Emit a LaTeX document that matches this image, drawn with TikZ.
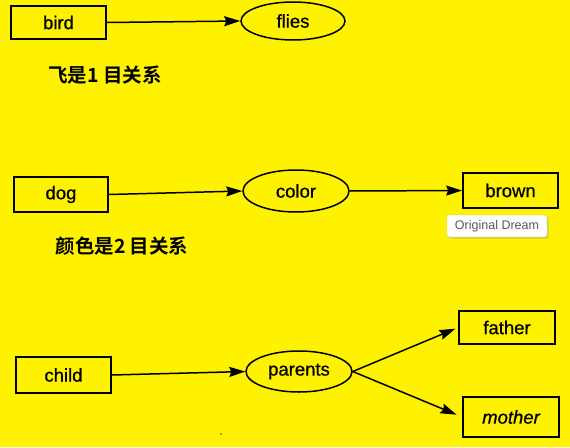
\documentclass[tikz,border=0pt]{standalone}
\usepackage{fontspec}
\setmainfont{Liberation Sans}
\newfontfamily\lbl[FakeBold=0.7]{Liberation Sans}
\newfontfamily\lblit[FakeBold=0.7]{Liberation Sans Italic}
\newfontfamily\cjk{Noto Sans CJK SC Bold}
\usetikzlibrary{shapes.geometric,arrows.meta,shadows}
\tikzset{
  boxnode/.style={draw=black, line width=1.7pt, rectangle, inner sep=0pt, font=\lbl\fontsize{18.5}{20}\selectfont},
  ovalnode/.style={draw=black, line width=1.5pt, ellipse, inner sep=0pt, font=\lbl\fontsize{18.5}{20}\selectfont},
  link/.style={draw=black, line width=1.5pt, -{Stealth[length=16pt,width=10pt,inset=2pt]}},
  cjklabel/.style={font=\cjk\fontsize{19.5}{21}\selectfont, inner sep=0pt},
  tipbox/.style={draw=black!25, fill=white, rounded corners=2pt, inner sep=0pt, minimum width=100pt, minimum height=22pt, text=black!65, font=\fontsize{12.5}{14}\selectfont, drop shadow={shadow xshift=1.5pt, shadow yshift=-1.5pt, opacity=0.3}}
}
\begin{document}
\begin{tikzpicture}[x=1pt,y=1pt]
\fill[yellow] (0,0) rectangle (570,-447);
\useasboundingbox (0,0) rectangle (570,-447);
% row 1
\node[boxnode, minimum width=95pt, minimum height=33pt] (bird) at (58.5,-22.5) {bird};
\node[ovalnode, minimum width=104pt, minimum height=38pt] (flies) at (293,-21) {flies};
\draw[link] (bird.east) -- (flies.west);
\node[cjklabel] (t1) at (105,-75) {飞是1 目关系};
% row 2
\node[boxnode, minimum width=94pt, minimum height=35pt] (dog) at (61,-194.5) {dog};
\node[ovalnode, minimum width=106pt, minimum height=42pt] (color) at (296,-191) {color};
\node[boxnode, minimum width=95pt, minimum height=35pt] (brown) at (510.5,-190.5) {brown};
\draw[link] (dog.east) -- (color.west);
\draw[link] (color.east) -- (brown.west);
\node[tipbox] (tip) at (497,-226) {Original Dream};
\node[cjklabel] (t2) at (122,-246.5) {颜色是2 目关系};
% row 3
\node[boxnode, minimum width=95pt, minimum height=36pt] (child) at (63.5,-375) {child};
\node[ovalnode, minimum width=106pt, minimum height=41pt] (parents) at (299,-371.5) {parents};
\node[boxnode, minimum width=96pt, minimum height=33pt] (father) at (507,-327.5) {father};
\node[boxnode, minimum width=96pt, minimum height=40pt] (mother) at (511,-417) {\lblit mother};
\draw[link] (child.east) -- (parents.west);
\draw[link, shorten >=3pt] (parents.east) -- (father.west);
\draw[link, shorten >=6pt] (parents.east) -- (mother.west);
\fill[black!70] (221,-434) circle (0.9pt);
\end{tikzpicture}
\end{document}
